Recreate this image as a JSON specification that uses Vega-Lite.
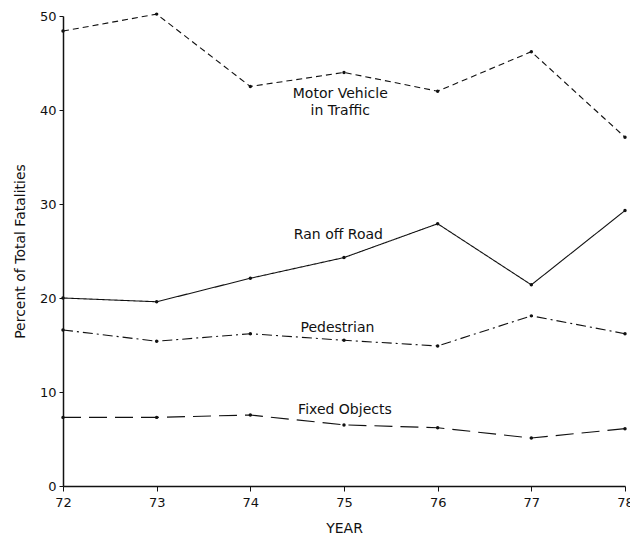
{
  "$schema": "https://vega.github.io/schema/vega-lite/v6.json",
  "width": 562,
  "height": 470,
  "autosize": {"type": "none"},
  "padding": {"left": 63, "top": 16, "right": 5, "bottom": 51},
  "background": "white",
  "config": {
    "view": {"stroke": null},
    "font": "DejaVu Sans",
    "axis": {"domainColor": "#111", "tickColor": "#111", "labelColor": "#111", "titleColor": "#111", "grid": false, "labelFont": "DejaVu Sans", "titleFont": "DejaVu Sans", "labelFontSize": 13, "titleFontSize": 14, "titleFontWeight": "normal", "domainWidth": 1.5}
  },
  "datasets": {
    "series": [
      {"year": 72, "pct": 48.4, "series": "Motor Vehicle in Traffic"},
      {"year": 73, "pct": 50.2, "series": "Motor Vehicle in Traffic"},
      {"year": 74, "pct": 42.5, "series": "Motor Vehicle in Traffic"},
      {"year": 75, "pct": 44.0, "series": "Motor Vehicle in Traffic"},
      {"year": 76, "pct": 42.0, "series": "Motor Vehicle in Traffic"},
      {"year": 77, "pct": 46.2, "series": "Motor Vehicle in Traffic"},
      {"year": 78, "pct": 37.1, "series": "Motor Vehicle in Traffic"},
      {"year": 72, "pct": 20.0, "series": "Ran off Road"},
      {"year": 73, "pct": 19.6, "series": "Ran off Road"},
      {"year": 74, "pct": 22.1, "series": "Ran off Road"},
      {"year": 75, "pct": 24.3, "series": "Ran off Road"},
      {"year": 76, "pct": 27.9, "series": "Ran off Road"},
      {"year": 77, "pct": 21.4, "series": "Ran off Road"},
      {"year": 78, "pct": 29.3, "series": "Ran off Road"},
      {"year": 72, "pct": 16.6, "series": "Pedestrian"},
      {"year": 73, "pct": 15.4, "series": "Pedestrian"},
      {"year": 74, "pct": 16.2, "series": "Pedestrian"},
      {"year": 75, "pct": 15.5, "series": "Pedestrian"},
      {"year": 76, "pct": 14.9, "series": "Pedestrian"},
      {"year": 77, "pct": 18.1, "series": "Pedestrian"},
      {"year": 78, "pct": 16.2, "series": "Pedestrian"},
      {"year": 72, "pct": 7.3, "series": "Fixed Objects"},
      {"year": 73, "pct": 7.3, "series": "Fixed Objects"},
      {"year": 74, "pct": 7.55, "series": "Fixed Objects"},
      {"year": 75, "pct": 6.5, "series": "Fixed Objects"},
      {"year": 76, "pct": 6.2, "series": "Fixed Objects"},
      {"year": 77, "pct": 5.1, "series": "Fixed Objects"},
      {"year": 78, "pct": 6.1, "series": "Fixed Objects"}
    ],
    "labels": [
      {"year": 74.96, "pct": 41.7, "label": "Motor  Vehicle"},
      {"year": 74.96, "pct": 39.9, "label": "in Traffic"},
      {"year": 74.94, "pct": 26.7, "label": "Ran off Road"},
      {"year": 74.93, "pct": 16.8, "label": "Pedestrian"},
      {"year": 75.01, "pct": 8.1, "label": "Fixed Objects"}
    ]
  },
  "layer": [
    {
      "data": {"name": "series"},
      "mark": {"type": "line", "color": "#111", "strokeWidth": 1.1},
      "encoding": {
        "x": {"field": "year", "type": "quantitative", "scale": {"domain": [72, 78], "nice": false, "zero": false}, "axis": {"title": "YEAR", "values": [72, 73, 74, 75, 76, 77, 78], "format": "d", "tickSize": 5, "labelPadding": 5, "titlePadding": 12, "labelFlush": false}},
        "y": {"field": "pct", "type": "quantitative", "scale": {"domain": [0, 50], "nice": false}, "axis": {"title": "Percent of Total Fatalities", "values": [0, 10, 20, 30, 40, 50], "tickSize": 4, "labelPadding": 3, "titlePadding": 12}},
        "detail": {"field": "series"},
        "strokeDash": {"field": "series", "type": "nominal", "legend": null, "scale": {"domain": ["Motor Vehicle in Traffic", "Ran off Road", "Pedestrian", "Fixed Objects"], "range": [[6, 4], [1, 0], [10, 4, 2, 4], [18, 8]]}}
      }
    },
    {
      "data": {"name": "series"},
      "mark": {"type": "point", "filled": true, "color": "#111", "size": 12, "opacity": 1},
      "encoding": {
        "x": {"field": "year", "type": "quantitative"},
        "y": {"field": "pct", "type": "quantitative"}
      }
    },
    {
      "data": {"name": "labels"},
      "mark": {"type": "text", "fontSize": 14, "color": "#111", "baseline": "middle", "align": "center"},
      "encoding": {
        "x": {"field": "year", "type": "quantitative"},
        "y": {"field": "pct", "type": "quantitative"},
        "text": {"field": "label"}
      }
    }
  ]
}
